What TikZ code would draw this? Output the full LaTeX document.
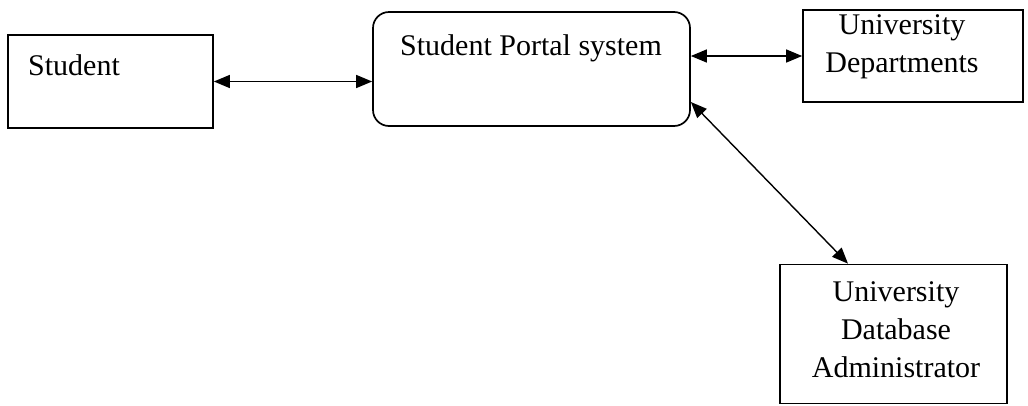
\documentclass[tikz,border=0pt]{standalone}
\usepackage{fontspec}
\setmainfont{Liberation Serif}
\usetikzlibrary{arrows.meta,calc}
\begin{document}
\begin{tikzpicture}[x=1pt,y=-1pt,
  box/.style={draw=black,line width=1.7pt,minimum width=#1,inner sep=0pt},
  lbl/.style={inner sep=0pt,font=\fontsize{30}{38}\selectfont,align=center},
  link/.style={line width=1.4pt,{Triangle[length=16pt,width=13pt]}-{Triangle[length=16pt,width=13pt]}}]
\useasboundingbox (0,0) rectangle (1028,405);
\node[box=205pt,minimum height=93pt] (Student) at (110.5,81.5) {};
\node[box=317pt,minimum height=114pt,rounded corners=16pt] (Portal) at (531.5,69) {};
\node[box=220pt,minimum height=92pt] (Dept) at (913,56) {};
\node[box=227pt,minimum height=139pt] (Admin) at (893.5,334) {};
\node[lbl,anchor=base west] (tStudent) at (28,75) {Student};
\node[lbl,anchor=base west] (tPortal) at (400,55) {Student Portal system};
\node[lbl,anchor=base] (tDept) at (902,72) {University\\Departments};
\node[lbl,anchor=base] (tAdmin) at (896,377) {University\\Database\\Administrator};
\draw[link] (Student.east) -- (Student.east -| Portal.west);
\draw[link] (Portal.east |- Dept.west) -- (Dept.west);
\draw[link] ([yshift=-33pt]Portal.east) -- ([xshift=-45.5pt]Admin.north);
\end{tikzpicture}
\end{document}
